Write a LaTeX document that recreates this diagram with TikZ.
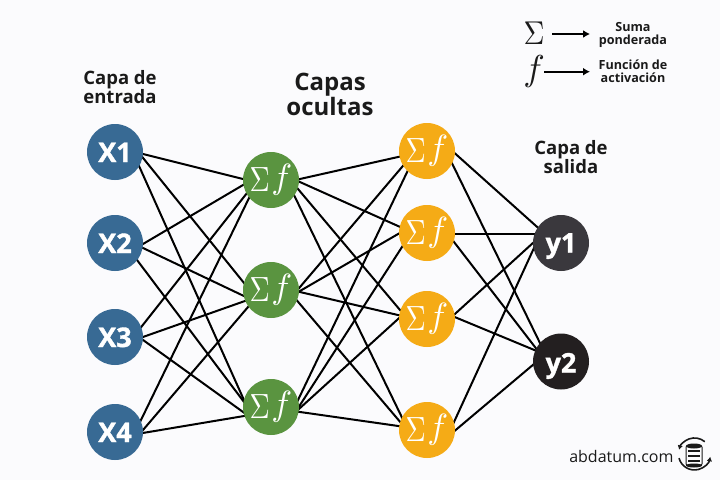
\documentclass[tikz,border=0pt]{standalone}
\usepackage{fontspec}
\setmainfont{Open Sans}
\newfontfamily\heavyfam[BoldFeatures={FakeBold=1.4}]{Open Sans}
\usetikzlibrary{arrows.meta}
\definecolor{bgc}{HTML}{FBFBFD}
\definecolor{inb}{HTML}{386A94}
\definecolor{grn}{HTML}{5A9440}
\definecolor{org}{HTML}{F5AB16}
\definecolor{dk1}{HTML}{3A383D}
\definecolor{dk2}{HTML}{231F20}
\definecolor{txt}{HTML}{1A1A1A}
\pgfdeclarelayer{back}
\pgfdeclarelayer{edges}
\pgfsetlayers{back,edges,main}
\newcommand{\sigf}{\raisebox{-3pt}{\scalebox{2.8}[3.5]{$\Sigma$}}\kern1.5pt\scalebox{3.5}{$f$}}
\newcommand{\lbl}[2]{\raisebox{-#1pt}[0pt][0pt]{#2}}
\tikzset{
 neuron/.style={circle,draw=none,minimum size=56pt,inner sep=0pt,text=white},
 innode/.style={neuron,fill=inb,font=\fontsize{27}{27}\selectfont\heavyfam\bfseries},
 outnode/.style={neuron,font=\fontsize{27}{27}\selectfont\heavyfam\bfseries},
 hid/.style={neuron},
 link/.style={line width=2pt,black},
 title/.style={align=center,text=txt,font=\fontsize{18.5}{19}\selectfont\bfseries},
 bigtitle/.style={align=center,text=txt,font=\fontsize{24}{25}\selectfont\bfseries},
 small/.style={align=center,text=txt,font=\fontsize{12.6}{13}\selectfont\bfseries},
 legarrow/.style={line width=2pt,-{Latex[length=7pt,width=8pt]}},
}
\begin{document}
\begin{tikzpicture}[x=1pt,y=-1pt]
\begin{pgfonlayer}{back}
\path[use as bounding box,fill=bgc] (0,0) rectangle (720,480);
\end{pgfonlayer}
\node[innode] (a1) at (115,152) {\lbl{10}{X1}};
\node[innode] (a2) at (115,243) {\lbl{10}{X2}};
\node[innode] (a3) at (115,337) {\lbl{10}{X3}};
\node[innode] (a4) at (115,432) {\lbl{10}{X4}};
\node[hid,fill=grn] (b1) at (271,180) {\sigf};
\node[hid,fill=grn] (b2) at (271,290) {\sigf};
\node[hid,fill=grn] (b3) at (271,407) {\sigf};
\node[hid,fill=org] (c1) at (427,151) {\sigf};
\node[hid,fill=org] (c2) at (427,233) {\sigf};
\node[hid,fill=org] (c3) at (427,319) {\sigf};
\node[hid,fill=org] (c4) at (427,430) {\sigf};
\node[outnode,fill=dk1] (d1) at (561,243) {\lbl{9.5}{y1}};
\node[outnode,fill=dk2] (d2) at (561,361.5) {\lbl{11}{y2}};
\begin{pgfonlayer}{edges}
\foreach \u/\sx/\sy/\v/\tx/\ty in {
 a1/20/0/b1/-21/0.75, a1/20/-4/b2/-21/0.4, a1/20/5/b3/-21/6.5,
 a2/20/5.7/b1/-21/0.9, a2/20/1.2/b2/-21/8.9, a2/20/14.3/b3/-21/3,
 a3/20/-2.1/b1/-21/9.2, a3/20/2.8/b2/-21/9.2, a3/20/-2.8/b3/-21/10,
 a4/20/0.3/b1/-21/16, a4/20/7.4/b2/-21/14.7, a4/20/2.3/b3/-21/8,
 b1/20/1/c1/-21/4.2, b1/20/-2/c2/-21/-3.4, b1/20/0.7/c3/-21/-1.9, b1/20/8.8/c4/-21/-4.2,
 b2/20/7.6/c1/-21/11.3, b2/20/6.2/c2/-21/-3.6, b2/20/-0.1/c3/-21/-2.1, b2/20/3.5/c4/-21/-1.2,
 b3/20/7.7/c1/-17/15, b3/20/12/c2/-21/7.8, b3/20/9.2/c3/-21/-7.2, b3/20/3.7/c4/-21/-2.9,
 c1/13/-11/d1/-16/-9, c2/13/1/d1/-16/-9, c3/18/4/d1/-16/-11, c4/18/11.6/d1/-16/-19,
 c1/19/0/d2/-11/2, c2/17/-4/d2/-11/5, c3/18/-6/d2/-11/-5, c4/18/9/d2/-11/-11}
  \draw[link] ([shift={(\sx,\sy)}]\u.center) -- ([shift={(\tx,\ty)}]\v.center);
\end{pgfonlayer}
\node[title] (t1) at (120,87) {Capa de\\entrada};
\node[bigtitle] (t2) at (330,94) {Capas\\ocultas};
\node[title] (t3) at (571,157) {Capa de\\salida};
\node[text=txt] (ls) at (534,33) {\scalebox{2.9}[3.3]{$\Sigma$}};
\node[text=txt] (lf) at (534,71) {\scalebox{3.6}{$f$}};
\node[small] (l1) at (633,35) {Suma\\ponderada};
\node[small] (l2) at (633,71) {Función de\\activación};
\coordinate (e1a) at (552,34);
\coordinate (e1b) at (590,34);
\coordinate (e2a) at (544,71.7);
\coordinate (e2b) at (590,71.7);
\draw[legarrow] (e1a) -- (e1b);
\draw[legarrow] (e2a) -- (e2b);
\node[text=txt,font=\fontsize{16}{16}\selectfont,anchor=east] (w) at (677,457) {abdatum.com};
\begin{scope}[txt]
\draw[line width=1pt,fill=bgc,rounded corners=1pt] (686,446) rectangle (702,465);
\fill (694,446) ellipse (8 and 2.5);
\fill (694,465.5) ellipse (8 and 2);
\foreach \yy in {451,456,461}
  \fill (688,\yy-1.3) rectangle (700,\yy+1.3);
\draw[line width=1.6pt,-{Latex[length=4.5pt,width=5.5pt]}] (704.8,441.7) arc[start angle=-50,end angle=-165,radius=16];
\draw[line width=1.6pt,-{Latex[length=4.5pt,width=5.5pt]}] (679,458.1) arc[start angle=-195,end angle=-350,radius=16];
\end{scope}
\end{tikzpicture}
\end{document}
